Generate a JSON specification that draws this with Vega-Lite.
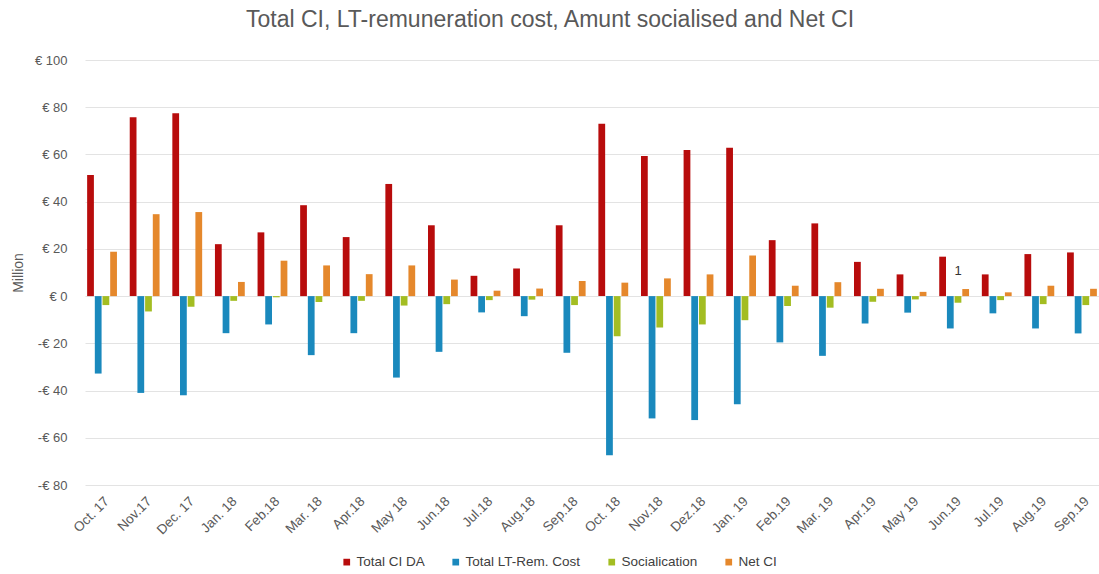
{
  "$schema": "https://vega.github.io/schema/vega-lite/v6.json",
  "width": 1014,
  "height": 425,
  "autosize": {"type": "none"},
  "padding": {"left": 85, "top": 60, "right": 0, "bottom": 89},
  "background": "white",
  "config": {
    "font": "Liberation Sans",
    "view": {"stroke": null}
  },
  "title": {
    "text": "Total CI, LT-remuneration cost, Amunt socialised and Net CI",
    "fontSize": 23,
    "fontWeight": "normal",
    "color": "#595959",
    "offset": 22,
    "dx": -42
  },
  "datasets": {
    "bars": [
      {"month": "Oct. 17", "series": "Total CI DA", "value": 51.3},
      {"month": "Oct. 17", "series": "Total LT-Rem. Cost", "value": -32.8},
      {"month": "Oct. 17", "series": "Socialication", "value": -3.8},
      {"month": "Oct. 17", "series": "Net CI", "value": 18.8},
      {"month": "Nov.17", "series": "Total CI DA", "value": 75.8},
      {"month": "Nov.17", "series": "Total LT-Rem. Cost", "value": -41},
      {"month": "Nov.17", "series": "Socialication", "value": -6.5},
      {"month": "Nov.17", "series": "Net CI", "value": 34.7},
      {"month": "Dec. 17", "series": "Total CI DA", "value": 77.5},
      {"month": "Dec. 17", "series": "Total LT-Rem. Cost", "value": -42},
      {"month": "Dec. 17", "series": "Socialication", "value": -4.5},
      {"month": "Dec. 17", "series": "Net CI", "value": 35.6},
      {"month": "Jan. 18", "series": "Total CI DA", "value": 22},
      {"month": "Jan. 18", "series": "Total LT-Rem. Cost", "value": -15.7},
      {"month": "Jan. 18", "series": "Socialication", "value": -2},
      {"month": "Jan. 18", "series": "Net CI", "value": 6},
      {"month": "Feb.18", "series": "Total CI DA", "value": 27},
      {"month": "Feb.18", "series": "Total LT-Rem. Cost", "value": -12},
      {"month": "Feb.18", "series": "Socialication", "value": -0.5},
      {"month": "Feb.18", "series": "Net CI", "value": 15},
      {"month": "Mar. 18", "series": "Total CI DA", "value": 38.5},
      {"month": "Mar. 18", "series": "Total LT-Rem. Cost", "value": -25},
      {"month": "Mar. 18", "series": "Socialication", "value": -2.5},
      {"month": "Mar. 18", "series": "Net CI", "value": 13},
      {"month": "Apr.18", "series": "Total CI DA", "value": 25},
      {"month": "Apr.18", "series": "Total LT-Rem. Cost", "value": -15.7},
      {"month": "Apr.18", "series": "Socialication", "value": -2},
      {"month": "Apr.18", "series": "Net CI", "value": 9.3},
      {"month": "May 18", "series": "Total CI DA", "value": 47.5},
      {"month": "May 18", "series": "Total LT-Rem. Cost", "value": -34.5},
      {"month": "May 18", "series": "Socialication", "value": -4},
      {"month": "May 18", "series": "Net CI", "value": 13},
      {"month": "Jun.18", "series": "Total CI DA", "value": 30},
      {"month": "Jun.18", "series": "Total LT-Rem. Cost", "value": -23.6},
      {"month": "Jun.18", "series": "Socialication", "value": -3.4},
      {"month": "Jun.18", "series": "Net CI", "value": 7},
      {"month": "Jul.18", "series": "Total CI DA", "value": 8.6},
      {"month": "Jul.18", "series": "Total LT-Rem. Cost", "value": -6.9},
      {"month": "Jul.18", "series": "Socialication", "value": -1.7},
      {"month": "Jul.18", "series": "Net CI", "value": 2.3},
      {"month": "Aug.18", "series": "Total CI DA", "value": 11.7},
      {"month": "Aug.18", "series": "Total LT-Rem. Cost", "value": -8.5},
      {"month": "Aug.18", "series": "Socialication", "value": -1.5},
      {"month": "Aug.18", "series": "Net CI", "value": 3.2},
      {"month": "Sep.18", "series": "Total CI DA", "value": 30},
      {"month": "Sep.18", "series": "Total LT-Rem. Cost", "value": -24},
      {"month": "Sep.18", "series": "Socialication", "value": -3.8},
      {"month": "Sep.18", "series": "Net CI", "value": 6.4},
      {"month": "Oct. 18", "series": "Total CI DA", "value": 73},
      {"month": "Oct. 18", "series": "Total LT-Rem. Cost", "value": -67.4},
      {"month": "Oct. 18", "series": "Socialication", "value": -17},
      {"month": "Oct. 18", "series": "Net CI", "value": 5.7},
      {"month": "Nov.18", "series": "Total CI DA", "value": 59.3},
      {"month": "Nov.18", "series": "Total LT-Rem. Cost", "value": -51.8},
      {"month": "Nov.18", "series": "Socialication", "value": -13.3},
      {"month": "Nov.18", "series": "Net CI", "value": 7.5},
      {"month": "Dez.18", "series": "Total CI DA", "value": 61.9},
      {"month": "Dez.18", "series": "Total LT-Rem. Cost", "value": -52.5},
      {"month": "Dez.18", "series": "Socialication", "value": -12},
      {"month": "Dez.18", "series": "Net CI", "value": 9.2},
      {"month": "Jan. 19", "series": "Total CI DA", "value": 62.8},
      {"month": "Jan. 19", "series": "Total LT-Rem. Cost", "value": -45.8},
      {"month": "Jan. 19", "series": "Socialication", "value": -10.2},
      {"month": "Jan. 19", "series": "Net CI", "value": 17.2},
      {"month": "Feb.19", "series": "Total CI DA", "value": 23.7},
      {"month": "Feb.19", "series": "Total LT-Rem. Cost", "value": -19.6},
      {"month": "Feb.19", "series": "Socialication", "value": -4.2},
      {"month": "Feb.19", "series": "Net CI", "value": 4.4},
      {"month": "Mar. 19", "series": "Total CI DA", "value": 30.8},
      {"month": "Mar. 19", "series": "Total LT-Rem. Cost", "value": -25.3},
      {"month": "Mar. 19", "series": "Socialication", "value": -4.9},
      {"month": "Mar. 19", "series": "Net CI", "value": 5.9},
      {"month": "Apr.19", "series": "Total CI DA", "value": 14.5},
      {"month": "Apr.19", "series": "Total LT-Rem. Cost", "value": -11.6},
      {"month": "Apr.19", "series": "Socialication", "value": -2.4},
      {"month": "Apr.19", "series": "Net CI", "value": 3.1},
      {"month": "May 19", "series": "Total CI DA", "value": 9.2},
      {"month": "May 19", "series": "Total LT-Rem. Cost", "value": -7},
      {"month": "May 19", "series": "Socialication", "value": -1.4},
      {"month": "May 19", "series": "Net CI", "value": 1.8},
      {"month": "Jun.19", "series": "Total CI DA", "value": 16.7},
      {"month": "Jun.19", "series": "Total LT-Rem. Cost", "value": -13.7},
      {"month": "Jun.19", "series": "Socialication", "value": -2.8},
      {"month": "Jun.19", "series": "Net CI", "value": 3},
      {"month": "Jul.19", "series": "Total CI DA", "value": 9.2},
      {"month": "Jul.19", "series": "Total LT-Rem. Cost", "value": -7.3},
      {"month": "Jul.19", "series": "Socialication", "value": -1.7},
      {"month": "Jul.19", "series": "Net CI", "value": 1.6},
      {"month": "Aug.19", "series": "Total CI DA", "value": 17.8},
      {"month": "Aug.19", "series": "Total LT-Rem. Cost", "value": -13.7},
      {"month": "Aug.19", "series": "Socialication", "value": -3.4},
      {"month": "Aug.19", "series": "Net CI", "value": 4.4},
      {"month": "Sep.19", "series": "Total CI DA", "value": 18.5},
      {"month": "Sep.19", "series": "Total LT-Rem. Cost", "value": -15.8},
      {"month": "Sep.19", "series": "Socialication", "value": -3.8},
      {"month": "Sep.19", "series": "Net CI", "value": 3.1}
    ],
    "notes": [
      {"month": "Jun.19", "series": "Socialication", "value": 7.5, "label": "1"}
    ]
  },
  "layer": [
    {
      "data": {"name": "bars"},
      "mark": {"type": "bar"},
      "encoding": {
        "x": {
          "field": "month",
          "type": "nominal",
          "sort": null,
          "scale": {"paddingInner": 0.3, "paddingOuter": 0.05},
          "axis": {
            "title": null,
            "labelAngle": -45,
            "labelFontSize": 13.5,
            "labelColor": "#595959",
            "labelPadding": 9,
            "domain": false,
            "ticks": false,
            "grid": false
          }
        },
        "xOffset": {
          "field": "series",
          "type": "nominal",
          "scale": {
            "domain": ["Total CI DA", "Total LT-Rem. Cost", "Socialication", "Net CI"],
            "paddingInner": 0.12
          }
        },
        "y": {
          "field": "value",
          "type": "quantitative",
          "scale": {"domain": [-80, 100], "nice": false},
          "axis": {
            "title": "Million",
            "titleFontSize": 14,
            "titleFontWeight": "normal",
            "titleColor": "#595959",
            "titlePadding": 9,
            "values": [-80, -60, -40, -20, 0, 20, 40, 60, 80, 100],
            "labelExpr": "datum.value < 0 ? '-€ ' + abs(datum.value) : '€ ' + datum.value",
            "labelFontSize": 13,
            "labelColor": "#595959",
            "labelPadding": 18,
            "domain": false,
            "ticks": false,
            "grid": true,
            "gridColor": "#e3e3e3",
            "gridWidth": 1
          }
        },
        "color": {
          "field": "series",
          "type": "nominal",
          "scale": {
            "domain": ["Total CI DA", "Total LT-Rem. Cost", "Socialication", "Net CI"],
            "range": ["#B80C0C", "#1A89BD", "#A3BD22", "#E5882C"]
          },
          "legend": {
            "title": null,
            "orient": "none",
            "legendX": 255,
            "legendY": 495,
            "direction": "horizontal",
            "symbolType": "square",
            "symbolSize": 45,
            "labelFontSize": 13.5,
            "labelColor": "#404040",
            "labelOffset": 3,
            "columnPadding": 24
          }
        }
      }
    },
    {
      "data": {"name": "notes"},
      "mark": {"type": "text", "fontSize": 13, "color": "#333333", "baseline": "bottom"},
      "encoding": {
        "x": {"field": "month", "type": "nominal", "sort": null},
        "xOffset": {
          "field": "series",
          "type": "nominal",
          "scale": {"domain": ["Total CI DA", "Total LT-Rem. Cost", "Socialication", "Net CI"]}
        },
        "y": {"field": "value", "type": "quantitative"},
        "text": {"field": "label"}
      }
    }
  ]
}
